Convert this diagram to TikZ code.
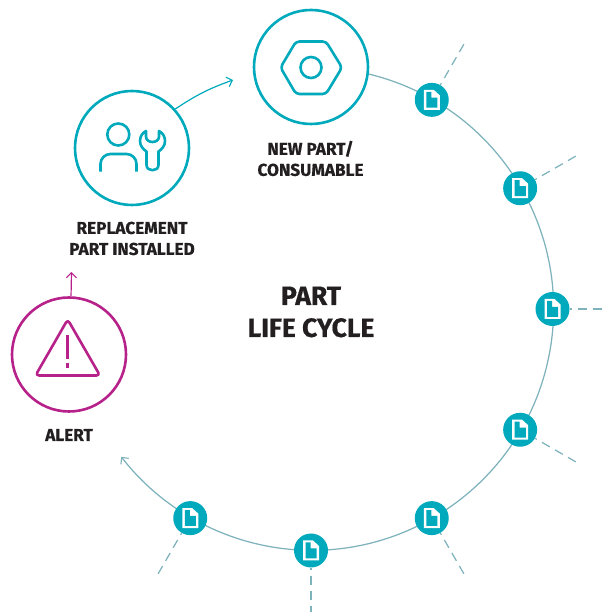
\documentclass[tikz,border=0pt]{standalone}
\usepackage{fontspec}
\setmainfont{Fira Sans}
\usetikzlibrary{arrows.meta}
\definecolor{tealc}{HTML}{00A9BC}
\definecolor{ringc}{HTML}{7FB3BC}
\definecolor{magen}{HTML}{B7218A}
\definecolor{ink}{HTML}{231F20}
\tikzset{
  big/.style={circle,draw,line width=2.6,minimum size=114,inner sep=0,fill=white},
  docnode/.style={circle,fill=tealc,minimum size=34,inner sep=0},
  ring/.style={draw=ringc,line width=1.25},
  dashline/.style={draw=ringc,line width=1.25,dash pattern=on 9 off 6,dash phase=7},
  barb/.style={-{Straight Barb[length=5,width=10,line width=1.1]}},
  icon/.style={line width=2.6,line join=round},
  lab/.style={font=\bfseries\addfontfeature{FakeBold=0.5}\fontsize{17.2}{21}\selectfont,text=ink,align=center},
  ttl/.style={font=\bfseries\addfontfeature{FakeBold=0.5}\fontsize{26.5}{32}\selectfont,text=ink,align=center},
  pics/docicon/.style={code={
    \fill[white] (-8,10) -- (2,10) -- (8,4.5) -- (8,-10) -- (-8,-10) -- cycle;
    \fill[tealc] (-5.5,8) -- (-0.5,8) -- (-0.5,2.2) -- (5.7,2.2) -- (5.7,-7.8) -- (-5.5,-7.8) -- cycle;
  }}
}
\begin{document}
\begin{tikzpicture}[x=1pt,y=1pt]
\useasboundingbox (0,0) rectangle (608,612);
\coordinate (ctr) at (311,303);
\node[big,draw=tealc] (nut) at (311,545) {};
\node[big,draw=tealc] (person) at (132,464) {};
\node[big,draw=magen] (alert) at (69,257.5) {};
\coordinate (nuttip) at (233,532);
\coordinate (alerttip) at (71.5,340);
% ring
\draw[ring,barb] (nut.-7) arc[start angle=76.4,end angle=-142.2,radius=241.5];
% connectors
\draw[draw=tealc,line width=1.2,barb] (person.42) to[bend left=7] (nuttip);
\draw[draw=magen,line width=1.2,barb] (alert.88) -- (alerttip);
% document nodes and dashed leaders
\foreach \n/\a/\r in {d1/60/306.5,d2/30/306.5,d3/0/294,d4/-30/306.5,d5/-60/306.5,d6/-90/303,d7/-120/306.5}{
  \node[docnode] (\n) at ([shift={(\a:241.5)}]ctr) {};
  \coordinate (e\n) at ([shift={(\a:\r)}]ctr);
  \draw[dashline] (\n) -- (e\n);
  \pic at (\n) {docicon};
}
% icons, typed in reference pixel coordinates
\begin{scope}[shift={(0,612)},yscale=-1,icon]
  % nut
  \draw[tealc,rounded corners=3.5] (280.5,67.5) -- (296,41.5) -- (326,41.5) -- (342,67.5) -- (326,94) -- (296,94) -- cycle;
  \draw[tealc] (311,67.5) circle[radius=10.5];
  % person
  \draw[tealc] (118.3,134.5) circle[radius=11];
  \draw[tealc,rounded corners=10] (100.5,171.7) -- (100.5,154) -- (136.5,154) -- (136.5,171.7);
  % wrench
  \draw[tealc] (146,131) -- (146,136.5) .. controls (146,140) and (149,142) .. (152.5,142)
    .. controls (156,142) and (159,140) .. (159,136.5) -- (159,131)
    .. controls (163,133) and (165,137) .. (165,141)
    .. controls (165,146) and (162,149) .. (158.5,151.5) -- (158.5,165)
    .. controls (158.5,172) and (146.5,172) .. (146.5,165) -- (146.5,151.5)
    .. controls (143,149) and (140,146) .. (140,141)
    .. controls (140,137) and (142,133) .. (146,131) -- cycle;
  % warning
  \draw[magen,rounded corners=3.5] (67.7,319.5) -- (35.5,375.5) -- (100,375.5) -- cycle;
  \draw[magen] (67.7,335) -- (67.7,358.7);
  \draw[magen] (67.7,362.7) -- (67.7,368.3);
\end{scope}
% labels
\node[lab] (l1) at (310.5,453.5) {NEW PART/\\CONSUMABLE};
\node[lab] (l2) at (132,373.5) {REPLACEMENT\\PART INSTALLED};
\node[lab] (l3) at (69,177) {ALERT};
\node[ttl] (title) at (311,300) {PART\\LIFE CYCLE};
\end{tikzpicture}
\end{document}
